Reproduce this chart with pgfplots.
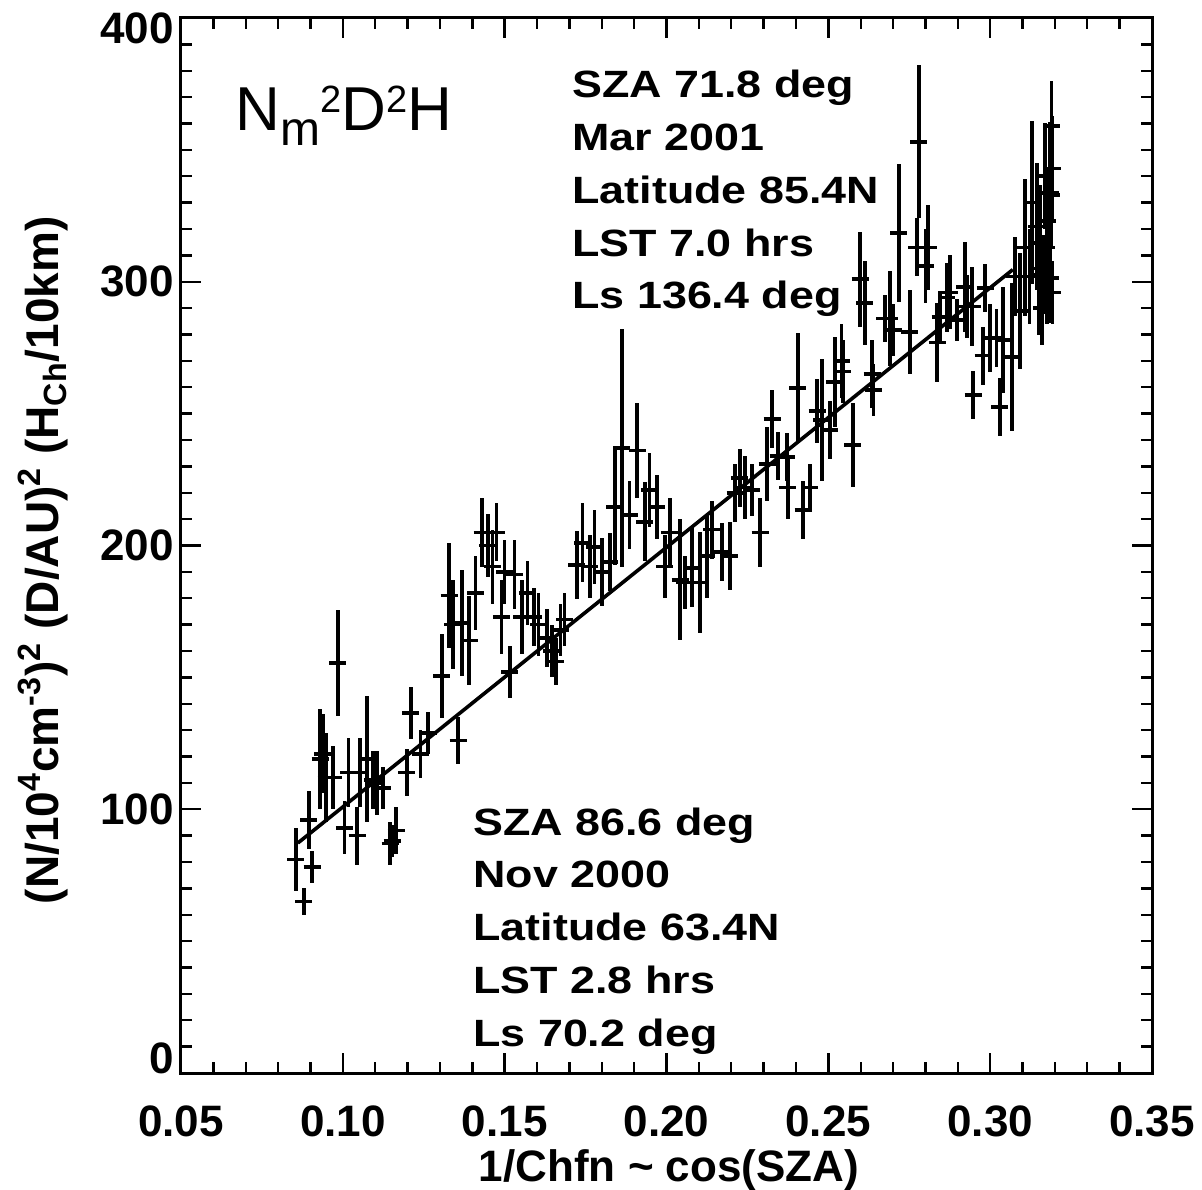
\documentclass[border=0pt]{standalone}
\usepackage{fontspec}
\setmainfont{Liberation Sans}
\newfontfamily\annfont[FakeStretch=1.18]{Liberation Sans}
\usepackage{pgfplots}
\usepackage{pgfplotstable}
\pgfplotsset{compat=1.18}
\usetikzlibrary{calc}

\pgfplotstableread{
x y e
0.0855 81 12
0.0880 65 5
0.0895 96 11
0.0905 78 6
0.0930 119 19
0.0938 121 15
0.0948 112 17
0.0970 112 12
0.0985 155.5 20
0.1005 93 10
0.1018 114 13
0.1044 90 11
0.1053 114 13
0.1075 119 24
0.1093 111 11
0.1105 110 12
0.1124 108 8
0.1146 87 8
0.1152 88 6
0.1165 92 9
0.1198 114 9
0.1210 136.5 10
0.1240 121 9
0.1264 129 8
0.1306 150.5 16
0.1328 181 20
0.1340 170 17
0.1356 126 9
0.1368 170.6 20
0.1390 164 17
0.1410 182 14
0.1430 205 13
0.1448 200 12
0.1462 192 14
0.1475 205 11
0.1490 173 14
0.1500 190 12
0.1516 152 10
0.1530 189 13
0.1553 173 14
0.1570 182 12
0.1590 173 11
0.1605 170 12
0.1630 165 11
0.1646 160 10
0.1658 156 9
0.1672 168 10
0.1685 172 10
0.1723 192.6 13
0.1741 201 15
0.1763 192 12
0.1778 199.5 14
0.1800 190 13
0.1825 193.7 11
0.1840 214.6 22
0.1862 237 45
0.1886 211.6 13
0.1909 236 18
0.1933 209 15
0.1948 221 14
0.1970 214.6 12
0.1995 192 12
0.2010 205 13
0.2042 187 23
0.2057 186 10
0.2079 191.5 15
0.2103 186 19
0.2125 196 16
0.2140 206 11
0.2171 197.5 11
0.2196 196 13
0.2212 220 11
0.2227 225.6 11
0.2243 222 12
0.2264 221 10
0.2289 205 13
0.2311 231 14
0.2326 248 11
0.2345 234 9
0.2372 233.5 9
0.2375 222 12
0.2406 259.7 21
0.2422 213.5 11
0.2443 222 9
0.2465 251 12
0.2480 247.6 23
0.2505 243.8 11
0.2520 262 17
0.2541 270 14
0.2545 266 12
0.2576 238 16
0.2598 301 18
0.2613 292 16
0.2635 265 13
0.2640 259 10
0.2675 286 9
0.2690 286 18
0.2700 281.7 10
0.2718 318.5 26
0.2752 281 16
0.2773 313 11
0.2780 353 29
0.2800 306 14
0.2808 313 16
0.2836 277 15
0.2845 286.6 10
0.2866 294 13
0.2875 296 14
0.2897 285.6 8
0.2922 298 17
0.2928 290.6 12
0.2944 290.6 15
0.2947 257 9
0.2978 272 11
0.2984 297.6 9
0.3000 278.7 13
0.3020 278.7 11
0.3030 252.5 11
0.3040 278 20
0.3067 271.5 28
0.3076 302 15
0.3092 289 22
0.3107 313 26
0.3122 302 18
0.3129 330 31
0.3144 321 24
0.3150 305 25
0.3154 314.7 22
0.3160 290 14
0.3163 302.6 15
0.3170 340 20
0.3175 313 29
0.3178 323 20
0.3185 333.6 27
0.3185 301.4 17
0.3190 359 17
0.3190 333 20
0.3193 343 20
0.3193 296 12
}\data

\begin{document}
\begin{tikzpicture}
\begin{axis}[
  at={(0,0)}, anchor=south west,
  scale only axis, width=485.5pt, height=527.5pt,
  xmin=0.05, xmax=0.35, ymin=0, ymax=400,
  xtick={0.05,0.10,0.15,0.20,0.25,0.30,0.35},
  xticklabels={0.05,0.10,0.15,0.20,0.25,0.30,0.35},
  ytick={0,100,200,300,400},
  yticklabels={\raisebox{0pt}[0pt][0pt]{0},100,200,300,\raisebox{-13pt}[0pt][0pt]{400}},
  minor x tick num=4, minor y tick num=9,
  tick align=inside,
  major tick length=10pt, minor tick length=5.5pt,
  every tick/.style={line width=1.2pt, black},
  axis line style={line width=1.5pt},
  ticklabel style={font=\fontsize{22}{22}\selectfont\bfseries},
  xticklabel style={yshift=-13pt},
  xlabel={1/Chfn \textasciitilde\ cos(SZA)},
  xlabel style={font=\fontsize{22}{22}\selectfont\bfseries, at={(axis description cs:0.5026,-0.1033)}, anchor=base},
  ylabel={(N/10\textsuperscript{4}cm\textsuperscript{-3})\textsuperscript{2} (D/AU)\textsuperscript{2} (H\textsubscript{Ch}/10km)},
  ylabel style={font=\fontsize{23}{23}\selectfont\bfseries, at={(axis description cs:-0.142,0.486)}, anchor=center, rotate=0},
]
\coordinate (bl) at (rel axis cs:0,0);
\coordinate (tr) at (rel axis cs:1,1);
\node[anchor=base west, inner sep=0pt, font=\fontsize{31}{31}\selectfont] at (axis cs:0.0667,357.5)
  {N\raisebox{-7.5pt}{\fontsize{24}{24}\selectfont m}\raisebox{9pt}{\fontsize{19}{19}\selectfont 2}D\raisebox{9pt}{\fontsize{19}{19}\selectfont 2}H};
\begin{scope}[every node/.style={anchor=base west, inner sep=0pt, font=\annfont\bfseries\fontsize{19}{19}\selectfont}]
\node at (axis cs:0.1708,369.7) {SZA 71.8 deg};
\node at (axis cs:0.1708,349.7) {Mar 2001};
\node at (axis cs:0.1708,329.7) {Latitude 85.4N};
\node at (axis cs:0.1708,309.7) {LST 7.0 hrs};
\node at (axis cs:0.1708,289.7) {Ls 136.4 deg};
\node at (axis cs:0.1402,90.2) {SZA 86.6 deg};
\node at (axis cs:0.1402,70.2) {Nov 2000};
\node at (axis cs:0.1402,50.4) {Latitude 63.4N};
\node at (axis cs:0.1402,30.3) {LST 2.8 hrs};
\node at (axis cs:0.1402,10.2) {Ls 70.2 deg};
\end{scope}
\addplot[black, only marks, mark=+, mark size=4.25pt, mark options={line width=1.8pt},
  error bars/.cd, y dir=both, y explicit, error mark=none,
  error bar style={line width=1.8pt, black}]
  table[x=x, y=y, y error=e]{\data};
\addplot[black, line width=1.8pt] coordinates {(0.0861,87.2) (0.307,304.6)};
\end{axis}
\pgfresetboundingbox
\path[use as bounding box] ($(bl)+(-90.5pt,-58pt)$) rectangle ($(tr)+(25pt,9pt)$);
\end{tikzpicture}
\end{document}
